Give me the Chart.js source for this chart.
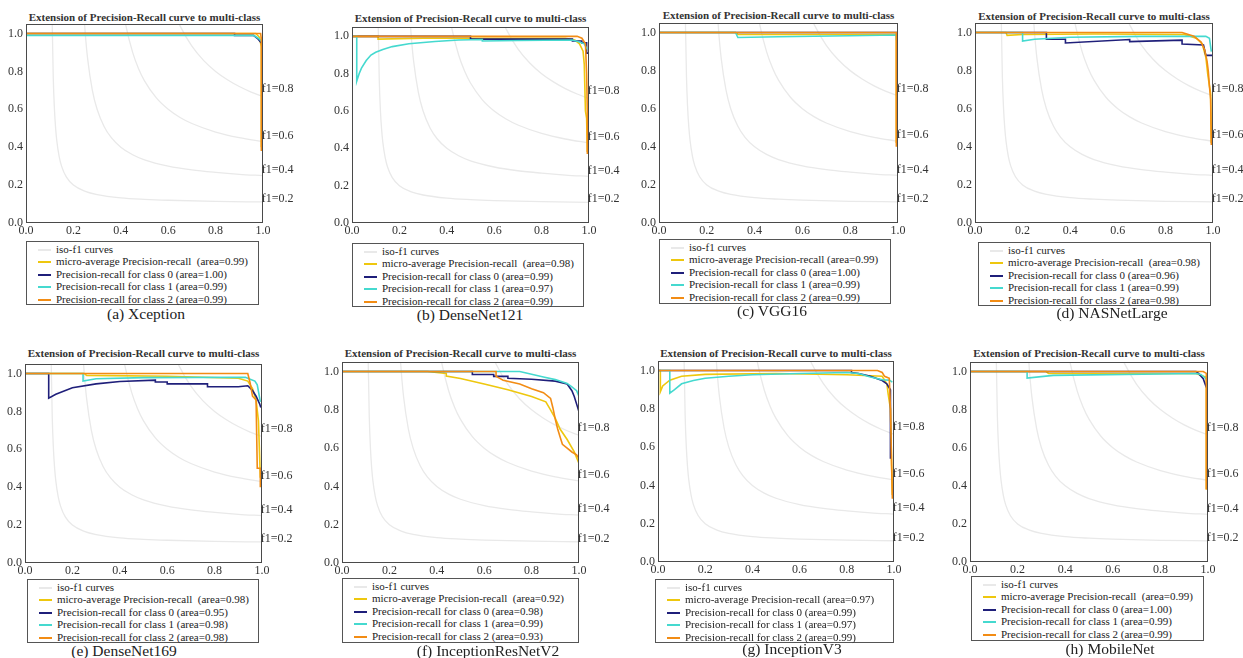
<!DOCTYPE html>
<html>
<head>
<meta charset="utf-8">
<script src="https://cdn.jsdelivr.net/npm/chart.js@4.4.0/dist/chart.umd.min.js"></script>
<style>
  body { margin: 0; width: 1243px; height: 658px; overflow: hidden; position: relative; background: #fff;
         font-family: "Liberation Serif", "DejaVu Serif", serif; color: #222; }
  canvas { position: absolute; }
  .title { position: absolute; font-family: "Liberation Serif", serif; font-weight: bold; font-size: 11px; white-space: nowrap; transform: translate(-50%, -50%); color: #333; }
  .legend { position: absolute; border: 1px solid #555; background: #fff; box-sizing: border-box; font-family: "Liberation Serif", serif; font-size: 11px; line-height: 12.4px; padding-top: 1px; }
  .legend div { white-space: pre; position: relative; padding-left: 29px; }
  .legend span { position: absolute; left: 11px; top: 6px; width: 13px; height: 2px; }
  .caption { position: absolute; font-family: "Liberation Serif", serif; font-size: 15.5px; white-space: nowrap; transform: translate(-50%, -50%); }
</style>
</head>
<body>
<script>
const xTickValues = [0, 0.2, 0.4, 0.6, 0.8, 1.0];
const yTickValues = [0, 0.2, 0.4, 0.6, 0.8, 1.0];
const isoF1Scores = [0.2, 0.4, 0.6, 0.8];
const isoLabelHeights = [0.11, 0.265, 0.445, 0.69];

// iso-f1 curves, points
const isoCurve02 = [[0.11, 1.1], [0.115, 0.767], [0.12, 0.6], [0.125, 0.5], [0.13, 0.433], [0.14, 0.35], [0.15, 0.3], [0.17, 0.243], [0.2, 0.2], [0.25, 0.167], [0.3, 0.15], [0.4, 0.133], [0.5, 0.125], [0.6, 0.12], [0.8, 0.114], [1.0, 0.111]];
const isoCurve04 = [[0.24, 1.2], [0.245, 1.089], [0.25, 1.0], [0.26, 0.867], [0.28, 0.7], [0.3, 0.6], [0.33, 0.508], [0.36, 0.45], [0.4, 0.4], [0.45, 0.36], [0.5, 0.333], [0.6, 0.3], [0.7, 0.28], [0.8, 0.267], [0.9, 0.257], [1.0, 0.25]];
const isoCurve06 = [[0.4, 1.2], [0.42, 1.05], [0.45, 0.9], [0.475, 0.814], [0.5, 0.75], [0.55, 0.66], [0.6, 0.6], [0.65, 0.557], [0.7, 0.525], [0.8, 0.48], [0.9, 0.45], [1.0, 0.429]];
const isoCurve08 = [[0.6, 1.2], [0.62, 1.127], [0.65, 1.04], [0.7, 0.933], [0.75, 0.857], [0.8, 0.8], [0.85, 0.756], [0.9, 0.72], [0.95, 0.691], [1.0, 0.667]];

const seriesLabels = ['iso-f1 curves', 'micro-average Precision-recall', 'Precision-recall for class 0', 'Precision-recall for class 1', 'Precision-recall for class 2'];
const panelNames = ['(a) Xception', '(b) DenseNet121', '(c) VGG16', '(d) NASNetLarge', '(e) DenseNet169', '(f) InceptionResNetV2', '(g) InceptionV3', '(h) MobileNet'];
const chartTitle = 'Extension of Precision-Recall curve to multi-class';

// [recall, precision]
const xceptionMicro = [[0, 1], [0.97, 1], [0.985, 0.98], [0.993, 0.93], [0.993, 0.40]];
const xceptionClass0 = [[0, 1], [0.88, 1], [0.88, 0.99], [0.96, 0.99], [0.98, 0.97], [0.993, 0.95]];
const xceptionClass1 = [[0, 0.99], [0.96, 0.99], [0.98, 0.975], [0.993, 0.96]];
const xceptionClass2 = [[0, 1], [0.99, 1], [0.993, 0.97], [0.993, 0.38]];
const xceptionAreas = [0.99, 1.00, 0.99, 0.99];

const dense121Micro = [[0, 1], [0.11, 1], [0.11, 0.985], [0.3, 0.99], [0.9, 0.99], [0.94, 0.98], [0.96, 0.96], [0.975, 0.92], [0.98, 0.85], [0.985, 0.6], [0.99, 0.56], [0.993, 0.38]];
const dense121Class0 = [[0, 1], [0.5, 1], [0.5, 0.985], [0.93, 0.985], [0.93, 0.975], [0.97, 0.975], [0.97, 0.965], [0.99, 0.965], [0.99, 0.91], [1.0, 0.91]];
const dense121Class1 = [[0, 1], [0.02, 1], [0.02, 0.76], [0.03, 0.8], [0.04, 0.83], [0.06, 0.87], [0.08, 0.9], [0.1, 0.915], [0.13, 0.93], [0.17, 0.945], [0.24, 0.96], [0.35, 0.972], [0.45, 0.98], [0.55, 0.983], [0.55, 0.975], [0.7, 0.978], [0.93, 0.98], [0.96, 0.97], [0.98, 0.96], [0.993, 0.93]];
const dense121Class2 = [[0, 1], [0.95, 1], [0.97, 0.99], [0.985, 0.96], [0.99, 0.8], [0.993, 0.6], [0.993, 0.37]];
const dense121Areas = [0.98, 0.99, 0.97, 0.99];

const vggMicro = [[0, 1], [0.32, 1], [0.33, 0.99], [0.99, 0.99], [0.993, 0.98], [0.993, 0.42]];
const vggClass0 = [[0, 1], [1.0, 1]];
const vggClass1 = [[0, 1], [0.32, 1], [0.33, 0.974], [0.5, 0.978], [0.8, 0.983], [0.993, 0.987], [0.993, 0.96]];
const vggClass2 = [[0, 1], [0.993, 1], [0.993, 0.40]];
const vggAreas = [0.99, 1.00, 0.99, 0.99];

const nasnetMicro = [[0, 1], [0.13, 1], [0.135, 0.985], [0.2, 0.99], [0.5, 0.992], [0.88, 0.99], [0.93, 0.97], [0.955, 0.94], [0.97, 0.87], [0.978, 0.78], [0.985, 0.72], [0.99, 0.68], [0.993, 0.42]];
const nasnetClass0 = [[0, 1], [0.3, 1], [0.3, 0.965], [0.38, 0.965], [0.38, 0.945], [0.65, 0.963], [0.65, 0.952], [0.87, 0.96], [0.87, 0.94], [0.96, 0.935], [0.97, 0.88], [1.0, 0.88]];
const nasnetClass1 = [[0, 1], [0.2, 1], [0.2, 0.955], [0.25, 0.965], [0.4, 0.975], [0.7, 0.98], [0.97, 0.98], [0.985, 0.97], [0.993, 0.9]];
const nasnetClass2 = [[0, 1], [0.87, 1], [0.92, 0.98], [0.95, 0.95], [0.965, 0.91], [0.975, 0.85], [0.98, 0.8], [0.985, 0.72], [0.99, 0.65], [0.993, 0.41]];
const nasnetAreas = [0.98, 0.96, 0.99, 0.98];

const dense169Micro = [[0, 1], [0.25, 1], [0.26, 0.99], [0.6, 0.985], [0.9, 0.975], [0.94, 0.96], [0.96, 0.92], [0.975, 0.86], [0.985, 0.75], [0.993, 0.45]];
const dense169Class0 = [[0, 1], [0.1, 1], [0.1, 0.87], [0.13, 0.89], [0.2, 0.925], [0.3, 0.945], [0.4, 0.958], [0.55, 0.965], [0.55, 0.955], [0.6, 0.955], [0.6, 0.945], [0.77, 0.945], [0.77, 0.93], [0.9, 0.93], [0.94, 0.935], [0.96, 0.91], [0.975, 0.88], [0.99, 0.84], [0.995, 0.82]];
const dense169Class1 = [[0, 1], [0.245, 1], [0.245, 0.96], [0.3, 0.972], [0.5, 0.978], [0.93, 0.98], [0.95, 0.97], [0.97, 0.96], [0.98, 0.94], [0.993, 0.85]];
const dense169Class2 = [[0, 1], [0.94, 1], [0.95, 0.95], [0.96, 0.88], [0.975, 0.86], [0.98, 0.5], [0.993, 0.5], [0.993, 0.4]];
const dense169Areas = [0.98, 0.95, 0.98, 0.98];

const incResMicro = [[0, 1], [0.36, 1], [0.44, 0.99], [0.44, 0.977], [0.5, 0.964], [0.6, 0.935], [0.7, 0.905], [0.8, 0.87], [0.86, 0.842], [0.88, 0.8], [0.9, 0.755], [0.92, 0.7], [0.95, 0.645], [0.98, 0.58], [1.0, 0.52]];
const incResClass0 = [[0, 1], [0.55, 1], [0.55, 0.985], [0.64, 0.985], [0.64, 0.975], [0.7, 0.975], [0.7, 0.965], [0.8, 0.96], [0.9, 0.95], [0.95, 0.935], [0.97, 0.9], [0.98, 0.87], [0.99, 0.83], [1.0, 0.79]];
const incResClass1 = [[0, 1], [0.75, 1], [0.8, 0.986], [0.85, 0.972], [0.9, 0.958], [0.95, 0.938], [0.97, 0.92], [0.99, 0.9], [1.0, 0.87]];
const incResClass2 = [[0, 1], [0.65, 1], [0.65, 0.975], [0.68, 0.955], [0.75, 0.935], [0.8, 0.91], [0.85, 0.89], [0.88, 0.86], [0.89, 0.81], [0.9, 0.75], [0.91, 0.7], [0.92, 0.66], [0.93, 0.62], [0.95, 0.6], [0.97, 0.58], [0.99, 0.565], [1.0, 0.545]];
const incResAreas = [0.92, 0.98, 0.99, 0.93];

const incV3Micro = [[0, 1], [0.01, 1], [0.01, 0.89], [0.02, 0.92], [0.05, 0.95], [0.1, 0.97], [0.2, 0.98], [0.5, 0.985], [0.8, 0.978], [0.95, 0.97], [0.97, 0.93], [0.975, 0.88], [0.985, 0.8], [0.99, 0.5], [0.993, 0.35]];
const incV3Class0 = [[0, 1], [0.82, 1], [0.82, 0.99], [0.85, 0.985], [0.9, 0.97], [0.95, 0.948], [0.97, 0.93], [0.985, 0.9], [0.985, 0.54]];
const incV3Class1 = [[0, 1], [0.05, 1], [0.05, 0.882], [0.07, 0.9], [0.1, 0.931], [0.15, 0.948], [0.2, 0.96], [0.3, 0.97], [0.4, 0.978], [0.6, 0.985], [0.8, 0.99], [0.85, 0.985], [0.9, 0.966], [0.95, 0.952], [0.98, 0.95], [0.993, 0.94]];
const incV3Class2 = [[0, 1], [0.93, 1], [0.95, 0.99], [0.96, 0.97], [0.98, 0.96], [0.985, 0.8], [0.99, 0.5], [0.993, 0.33]];
const incV3Areas = [0.97, 0.99, 0.97, 0.99];

const mobileMicro = [[0, 1], [0.32, 1], [0.33, 0.99], [0.95, 0.99], [0.97, 0.98], [0.993, 0.97], [0.993, 0.38]];
const mobileClass0 = [[0, 1], [0.95, 1], [0.96, 0.99], [0.98, 0.962], [0.99, 0.927], [1.0, 0.9]];
const mobileClass1 = [[0, 1], [0.24, 1], [0.24, 0.966], [0.35, 0.98], [0.95, 0.99], [0.97, 0.985], [1.0, 0.953]];
const mobileClass2 = [[0, 1], [0.98, 1], [0.993, 0.99], [0.993, 0.38]];
const mobileAreas = [0.99, 1.00, 0.99, 0.99];

const isoCurves = [isoCurve02, isoCurve04, isoCurve06, isoCurve08];
const curveSets = [
  [xceptionMicro, xceptionClass0, xceptionClass1, xceptionClass2],
  [dense121Micro, dense121Class0, dense121Class1, dense121Class2],
  [vggMicro, vggClass0, vggClass1, vggClass2],
  [nasnetMicro, nasnetClass0, nasnetClass1, nasnetClass2],
  [dense169Micro, dense169Class0, dense169Class1, dense169Class2],
  [incResMicro, incResClass0, incResClass1, incResClass2],
  [incV3Micro, incV3Class0, incV3Class1, incV3Class2],
  [mobileMicro, mobileClass0, mobileClass1, mobileClass2]
];
const areaSets = [xceptionAreas, dense121Areas, vggAreas, nasnetAreas, dense169Areas, incResAreas, incV3Areas, mobileAreas];

// page layout: plot box [left, top, right, bottom], title centre y, legend box, caption centre
const panelLayout = [
  { plot: [26, 24, 263, 223], titleY: 17, legend: [26, 241, 259, 305], caption: [146, 314], gap: '  ' },
  { plot: [352, 27, 589, 223], titleY: 18, legend: [352, 243, 584, 307], caption: [470, 315], gap: '  ' },
  { plot: [659, 23, 898, 223], titleY: 15, legend: [659, 239, 891, 304], caption: [772, 311], gap: ' ' },
  { plot: [975, 23, 1213, 223], titleY: 16, legend: [978, 242, 1211, 306], caption: [1112, 313], gap: '  ' },
  { plot: [25, 364, 262, 563], titleY: 353, legend: [27, 579, 259, 643], caption: [124, 651], gap: '  ' },
  { plot: [342, 362, 579, 563], titleY: 353, legend: [342, 578, 579, 643], caption: [488, 651], gap: '  ' },
  { plot: [658, 361, 894, 562], titleY: 353, legend: [655, 579, 894, 643], caption: [792, 649], gap: ' ' },
  { plot: [970, 362, 1208, 562], titleY: 353, legend: [971, 576, 1204, 641], caption: [1110, 649], gap: '  ' }
];

const lineColors = ['#eec70e', '#1f1f7a', '#45d9cf', '#f28c14'];
const isoColor = '#e9e9e9';
const tickFont = { family: '"Liberation Serif", serif', size: 12 };
const padL = 30, padT = 12, padR = 42, padB = 16;

const frameAndLabels = {
  id: 'frameAndLabels',
  afterDatasetsDraw(chart) {
    const { ctx, chartArea: a, scales: { x, y } } = chart;
    ctx.save();
    ctx.strokeStyle = '#4a4a4a';
    ctx.lineWidth = 1;
    ctx.strokeRect(Math.round(a.left) + 0.5, Math.round(a.top) + 0.5, Math.round(a.right - a.left) - 1, Math.round(a.bottom - a.top) - 1);
    ctx.fillStyle = '#333';
    ctx.font = '12px "Liberation Serif", serif';
    ctx.textAlign = 'left';
    ctx.textBaseline = 'alphabetic';
    isoF1Scores.forEach((f, i) => {
      ctx.fillText('f1=' + f.toFixed(1), x.getPixelForValue(0.995), y.getPixelForValue(isoLabelHeights[i]));
    });
    ctx.restore();
  }
};

const toPoints = arr => arr.map(p => ({ x: p[0], y: p[1] }));

panelLayout.forEach((p, i) => {
  const [L, T, R, B] = p.plot;

  const title = document.createElement('div');
  title.className = 'title';
  title.textContent = chartTitle;
  title.style.left = ((L + R) / 2) + 'px';
  title.style.top = p.titleY + 'px';
  document.body.appendChild(title);

  const canvas = document.createElement('canvas');
  canvas.width = R - L + padL + padR;
  canvas.height = B - T + padT + padB;
  canvas.style.left = (L - padL) + 'px';
  canvas.style.top = (T - padT) + 'px';
  document.body.appendChild(canvas);

  const datasets = [];
  isoCurves.forEach(c => datasets.push({
    data: toPoints(c), borderColor: isoColor, borderWidth: 1.3, showLine: true,
    pointRadius: 0, cubicInterpolationMode: 'monotone', order: 10
  }));
  curveSets[i].forEach((c, k) => datasets.push({
    data: toPoints(c), borderColor: lineColors[k], borderWidth: 1.6, showLine: true,
    pointRadius: 0, tension: 0, order: 4 - k
  }));

  new Chart(canvas.getContext('2d'), {
    type: 'scatter',
    data: { datasets },
    options: {
      responsive: false,
      animation: false,
      events: [],
      layout: { padding: { left: 0, top: padT, right: padR, bottom: 0 } },
      plugins: { legend: { display: false }, tooltip: { enabled: false }, title: { display: false } },
      scales: {
        x: {
          type: 'linear', min: 0, max: 1,
          afterBuildTicks: s => { s.ticks = xTickValues.map(v => ({ value: v })); },
          afterFit: s => { s.height = padB; },
          grid: { display: false, drawTicks: false },
          border: { display: false },
          ticks: { font: tickFont, color: '#333', padding: 1, maxRotation: 0, autoSkip: false, callback: v => v.toFixed(1) }
        },
        y: {
          type: 'linear', min: 0, max: 1.05,
          afterBuildTicks: s => { s.ticks = yTickValues.map(v => ({ value: v })); },
          afterFit: s => { s.width = padL; },
          grid: { display: false, drawTicks: false },
          border: { display: false },
          ticks: { font: tickFont, color: '#333', padding: 3, autoSkip: false, callback: v => v.toFixed(1) }
        }
      }
    },
    plugins: [frameAndLabels]
  });

  const [lx0, ly0, lx1, ly1] = p.legend;
  const legend = document.createElement('div');
  legend.className = 'legend';
  legend.style.left = lx0 + 'px';
  legend.style.top = ly0 + 'px';
  legend.style.width = (lx1 - lx0) + 'px';
  legend.style.height = (ly1 - ly0) + 'px';
  const areas = areaSets[i];
  const texts = [
    seriesLabels[0],
    seriesLabels[1] + p.gap + '(area=' + areas[0].toFixed(2) + ')',
    seriesLabels[2] + ' (area=' + areas[1].toFixed(2) + ')',
    seriesLabels[3] + ' (area=' + areas[2].toFixed(2) + ')',
    seriesLabels[4] + ' (area=' + areas[3].toFixed(2) + ')'
  ];
  const swatches = [isoColor].concat(lineColors);
  texts.forEach((t, k) => {
    const row = document.createElement('div');
    const sw = document.createElement('span');
    sw.style.background = swatches[k];
    row.appendChild(sw);
    row.appendChild(document.createTextNode(t));
    legend.appendChild(row);
  });
  document.body.appendChild(legend);

  const cap = document.createElement('div');
  cap.className = 'caption';
  cap.textContent = panelNames[i];
  cap.style.left = p.caption[0] + 'px';
  cap.style.top = p.caption[1] + 'px';
  document.body.appendChild(cap);
});
</script>
</body>
</html>
